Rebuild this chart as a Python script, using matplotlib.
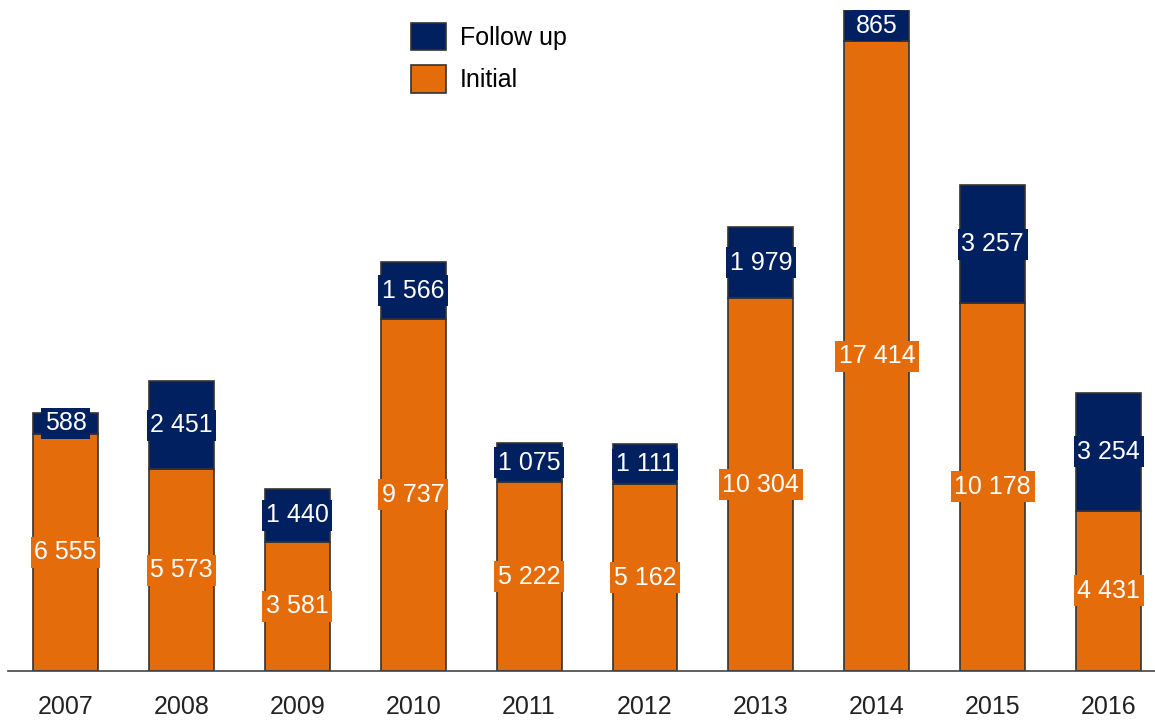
import numpy as np
import matplotlib.pyplot as plt

# -----------------------------
# Daten
# -----------------------------
years = ["2007", "2008", "2009", "2010", "2011", "2012", "2013", "2014", "2015", "2016"]
initial = [6555, 5573, 3581, 9737, 5222, 5162, 10304, 17414, 10178, 4431]
follow_up = [588, 2451, 1440, 1566, 1075, 1111, 1979, 865, 3257, 3254]

orange = "#E46C0A"
navy = "#002060"
edge = "#333333"

plt.rcParams["font.family"] = ["Liberation Sans", "DejaVu Sans"]


def fmt(v):
    return f"{v:,}".replace(",", " ")


fig = plt.figure(figsize=(11.55, 7.2), dpi=100)
ax = fig.add_axes([8 / 1155, 49 / 720, 1147 / 1155, 661 / 720])

x = np.arange(len(years))
width = 0.56
initial = np.array(initial)
follow_up = np.array(follow_up)

ax.bar(x, initial, width, color=orange, edgecolor=edge, linewidth=1.2, label="Initial")
ax.bar(x, follow_up, width, bottom=initial, color=navy, edgecolor=edge,
       linewidth=1.2, label="Follow up")

# Beschriftung in der Mitte der Segmente
for xi, a, b in zip(x, initial, follow_up):
    ax.text(xi, a / 2, fmt(a), ha="center", va="center", color="white", fontsize=18,
            bbox=dict(facecolor=orange, edgecolor="none", pad=2.5))
    ax.text(xi, a + b / 2, fmt(b), ha="center", va="center", color="white", fontsize=18,
            bbox=dict(facecolor=navy, edgecolor="none", pad=2.5))

ax.set_xlim(-0.496, 9.4)
ax.set_ylim(0, (initial + follow_up).max())
ax.set_xticks(x, years)
ax.tick_params(axis="x", length=0, pad=17, labelsize=18, labelcolor="#222222")
ax.set_yticks([])
for s in ["top", "right", "left"]:
    ax.spines[s].set_visible(False)
ax.spines["bottom"].set_color("#444444")
ax.spines["bottom"].set_linewidth(1.2)

handles, labels = ax.get_legend_handles_labels()
ax.legend(handles[::-1], labels[::-1], loc="upper left", bbox_to_anchor=(0.343, 0.996),
          frameon=False, fontsize=18, handlelength=1.4, handleheight=1.3,
          handletextpad=0.55, labelspacing=0.62, borderaxespad=0)

fig.savefig("out.png", dpi=100)
